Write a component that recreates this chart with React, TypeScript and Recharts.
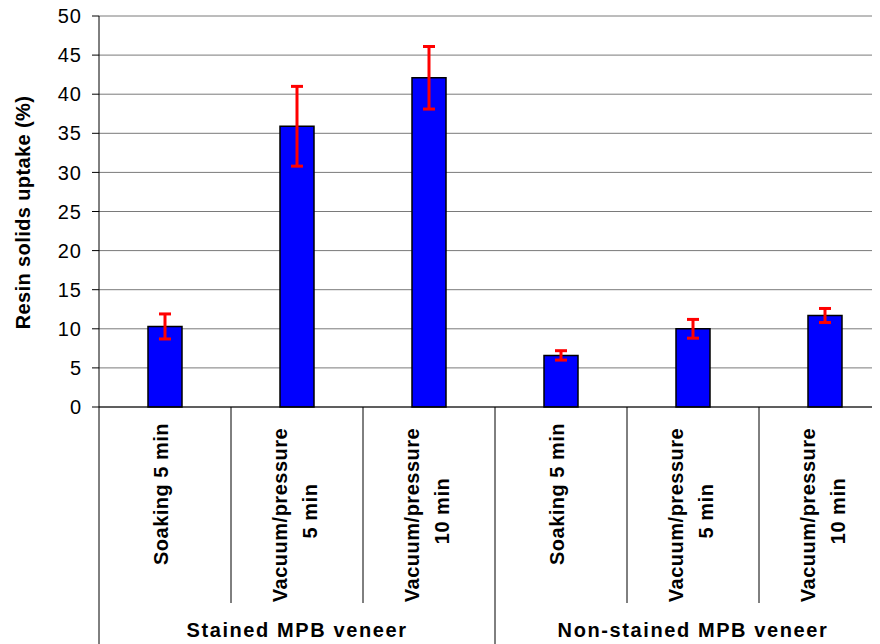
import { BarChart, Bar, XAxis, YAxis, CartesianGrid, ErrorBar, Label } from "recharts";

const categories = [
  "Soaking 5 min",
  "Vacuum/pressure\n5 min",
  "Vacuum/pressure\n10 min",
  "Soaking 5 min",
  "Vacuum/pressure\n5 min",
  "Vacuum/pressure\n10 min",
];
const uptake = [10.3, 35.9, 42.1, 6.6, 10.0, 11.7];
const uptakeErr = [1.6, 5.1, 4.0, 0.6, 1.2, 0.9];
const groups = ["Stained MPB veneer", "Non-stained MPB veneer"];
const yTicks = [0, 5, 10, 15, 20, 25, 30, 35, 40, 45, 50];

const data = categories.map((name, i) => ({
  id: i,
  name,
  uptake: uptake[i],
  err: uptakeErr[i],
}));

const W = 908;
const H = 644;
const M = { top: 16, right: 17, left: 8, bottom: 0 };
const Y_W = 91;
const X_H = 237;
const BAND = (W - M.left - M.right - Y_W) / categories.length;
const PER_GROUP = categories.length / groups.length;
const FONT = "'Liberation Sans', Arial, Helvetica, sans-serif";

function CategoryTick(props: any) {
  const { x, y, payload } = props;
  const i = payload.index;
  const half = BAND / 2;
  const lines = categories[i].split("\n");
  const groupEdge = i % PER_GROUP === 0;
  const short = 196;
  const full = X_H;
  const txt = (s: string, bx: number, cy: number, k: number) => (
    <text
      key={k}
      x={bx}
      y={cy}
      transform={`rotate(-90 ${bx} ${cy})`}
      textAnchor="middle"
      fontSize={20}
      fontWeight="bold"
      letterSpacing={0.5}
      fontFamily={FONT}
      fill="#000"
    >
      {s}
    </text>
  );
  return (
    <g>
      <line x1={x - half} x2={x - half} y1={y} y2={y + (groupEdge ? full : short)} stroke="#000" strokeWidth={1} />
      {i === categories.length - 1 && (
        <line x1={x + half} x2={x + half} y1={y} y2={y + full} stroke="#000" strokeWidth={1} />
      )}
      {lines.length === 1
        ? txt(lines[0], x + 3, y + 87, 0)
        : [txt(lines[0], x - 10, y + 108, 0), txt(lines[1], x + 20, y + 104, 1)]}
      {i % PER_GROUP === 1 && (
        <text
          x={x}
          y={y + 230}
          textAnchor="middle"
          fontSize={20}
          fontWeight="bold"
          letterSpacing={1.6}
          fontFamily={FONT}
          fill="#000"
        >
          {groups[Math.floor(i / PER_GROUP)]}
        </text>
      )}
    </g>
  );
}

function YTitle(props: any) {
  const vb = props.viewBox || { x: M.left, y: M.top, width: Y_W, height: H - M.top - X_H };
  const cx = vb.x + 14.5;
  const cy = vb.y + vb.height / 2 + 1;
  return (
    <text
      x={cx}
      y={cy}
      dy="0.35em"
      transform={`rotate(-90 ${cx} ${cy})`}
      textAnchor="middle"
      fontSize={20}
      fontWeight="bold"
      letterSpacing={0.4}
      fontFamily={FONT}
      fill="#000"
    >
      Resin solids uptake (%)
    </text>
  );
}

export default function App() {
  return (
    <div style={{ margin: "-8px 0 0 -8px", width: 880, height: 644, overflow: "hidden", background: "#fff" }}>
      <BarChart width={W} height={H} data={data} margin={M}>
        <CartesianGrid vertical={false} stroke="#7a7a7a" strokeWidth={1} />
        <XAxis
          dataKey="id"
          type="category"
          height={X_H}
          interval={0}
          tickLine={false}
          tickSize={0}
          tickMargin={0}
          axisLine={{ stroke: "#000", strokeWidth: 1 }}
          tick={<CategoryTick />}
        />
        <YAxis
          width={Y_W}
          domain={[0, 50]}
          ticks={yTicks}
          interval={0}
          tickSize={7}
          tickMargin={10}
          axisLine={{ stroke: "#000", strokeWidth: 1 }}
          tickLine={{ stroke: "#000", strokeWidth: 1 }}
          tick={{ fill: "#000", fontSize: 20, fontFamily: FONT, letterSpacing: 1 }}
        >
          <Label content={<YTitle />} />
        </YAxis>
        <Bar
          dataKey="uptake"
          fill="#0000ff"
          stroke="#000"
          strokeWidth={1.5}
          barSize={34}
          isAnimationActive={false}
        >
          <ErrorBar dataKey="err" direction="y" width={6} stroke="#ff0000" strokeWidth={3} isAnimationActive={false} />
        </Bar>
      </BarChart>
    </div>
  );
}
